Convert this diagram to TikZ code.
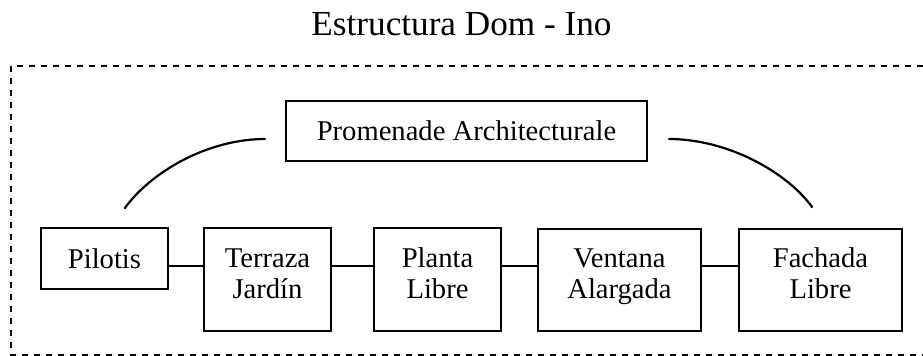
\documentclass[tikz,border=0pt]{standalone}
\usepackage{fontspec}
\setmainfont{Liberation Serif}
\usetikzlibrary{calc}
\newcommand\twolines[2]{\strut#1\\#2\rule[-7.65pt]{0pt}{7.65pt}}

\begin{document}
\begin{tikzpicture}[x=0.5pt, y=-0.5pt,
    box/.style={draw, line width=1.4pt, inner sep=0pt, align=center,
      minimum width=63.5pt, font=\fontsize{14.3}{15.5}\selectfont},
    wide/.style={box, minimum width=81.5pt},
    link/.style={line width=1.3pt},
    arc/.style={line width=1.1pt}]
    \useasboundingbox (0,0) rectangle (923,356);
    \draw[line width=1pt, dash pattern=on 3.2pt off 2.8pt] (11,66) rectangle (940,355);
    \node[anchor=base, font=\fontsize{17.6}{19}\selectfont] (title) at (461.5,36) {Estructura Dom - Ino};

    \node[box, minimum width=180.5pt, minimum height=30pt] (PA) at (466.5,131) {Promenade Architecturale};
    \node[box, minimum height=30.5pt] (Pi) at (104.5,258.5) {Pilotis};
    \node[box, minimum height=51.5pt] (TJ) at (267.5,279.5) {\twolines{Terraza}{Jardín}};
    \node[box, minimum height=51.5pt] (PL) at (437.5,279.5) {\twolines{Planta}{Libre}};
    \node[wide, minimum height=51pt] (VA) at (619.5,280) {\twolines{Ventana}{Alargada}};
    \node[wide, minimum height=51pt] (FL) at (820.5,280) {\twolines{Fachada}{Libre}};

    \coordinate (rail) at (0,266);
    \draw[link] (Pi.east |- rail) -- (TJ.west |- rail);
    \draw[link] (TJ.east |- rail) -- (PL.west |- rail);
    \draw[link] (PL.east |- rail) -- (VA.west |- rail);
    \draw[link] (VA.east |- rail) -- (FL.west |- rail);

    \draw[arc] ([shift={(20,-18)}]Pi.north) .. controls +(25,-35) and +(-60,0) .. ([shift={(-19,8)}]PA.west);
    \draw[arc] ([shift={(20,8)}]PA.east) .. controls +(60,0) and +(-25,-35) .. ([shift={(-8,-20)}]FL.north);
\end{tikzpicture}
\end{document}
